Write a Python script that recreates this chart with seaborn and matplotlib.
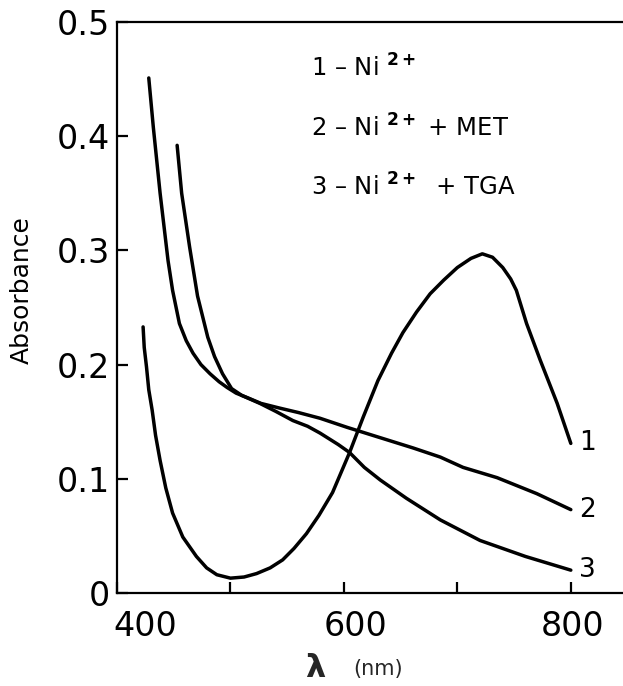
import matplotlib
matplotlib.use("Agg")
import matplotlib.pyplot as plt
import matplotlib.transforms as mtransforms
import seaborn as sns
import pandas as pd

# --- data ---
wl1 = [423, 424, 426, 428, 431, 434, 438, 443, 449, 458, 470, 479, 488, 500, 512,
       523, 535, 546, 556, 567, 578, 590, 605, 617, 630, 642, 652, 664, 676, 688,
       700, 712, 722, 731, 740, 747, 752, 761, 773, 788, 800]
abs1 = [0.233, 0.215, 0.198, 0.178, 0.160, 0.138, 0.116, 0.092, 0.070, 0.049, 0.032,
        0.022, 0.016, 0.013, 0.014, 0.017, 0.022, 0.029, 0.039, 0.052, 0.068, 0.088,
        0.123, 0.154, 0.186, 0.210, 0.228, 0.246, 0.262, 0.274, 0.285, 0.293, 0.297,
        0.294, 0.285, 0.275, 0.265, 0.236, 0.204, 0.166, 0.131]

wl2 = [428, 432, 438, 445, 449, 455, 461, 467, 474, 482, 490, 497, 505, 515, 527,
       543, 560, 579, 603, 632, 661, 685, 705, 735, 770, 800]
abs2 = [0.451, 0.408, 0.350, 0.291, 0.265, 0.236, 0.221, 0.210, 0.200, 0.192, 0.185,
        0.180, 0.175, 0.171, 0.166, 0.162, 0.158, 0.153, 0.145, 0.136, 0.127, 0.119,
        0.110, 0.101, 0.087, 0.073]

wl3 = [453, 457, 464, 471, 480, 486, 493, 501, 510, 526, 540, 555, 568, 579, 595,
       605, 618, 632, 655, 685, 720, 760, 800]
abs3 = [0.392, 0.350, 0.303, 0.260, 0.224, 0.207, 0.192, 0.179, 0.173, 0.166, 0.159,
        0.151, 0.146, 0.140, 0.130, 0.123, 0.110, 0.099, 0.083, 0.064, 0.046, 0.032,
        0.020]

curve_ids = ["1", "2", "3"]
legend_lines = [r"1 – Ni $^{\mathbf{2+}}$",
                r"2 – Ni $^{\mathbf{2+}}$ + MET",
                r"3 – Ni $^{\mathbf{2+}}$  + TGA"]
xticks = [400, 500, 600, 700, 800]
xticklabels = ["400", "", "600", "", "800"]
yticks = [0, 0.1, 0.2, 0.3, 0.4, 0.5]
yticklabels = ["0", "0.1", "0.2", "0.3", "0.4", "0.5"]

df = pd.concat([
    pd.DataFrame({"wl": wl1, "A": abs1, "curve": "1"}),
    pd.DataFrame({"wl": wl2, "A": abs2, "curve": "2"}),
    pd.DataFrame({"wl": wl3, "A": abs3, "curve": "3"}),
])

sns.set_theme(style="white")
plt.rcParams["font.family"] = ["DejaVu Sans"]

fig = plt.figure(figsize=(6.23, 6.86), dpi=100)
ax = fig.add_axes([117 / 623, 93 / 686, 1 - 117 / 623, (593 - 22) / 686])

sns.lineplot(data=df, x="wl", y="A", units="curve", estimator=None,
             color="black", linewidth=2.5, ax=ax, legend=False)

ax.set_xlim(400, 846)
ax.set_ylim(0, 0.5)
ax.set_xticks(xticks)
ax.set_xticklabels(xticklabels)
ax.set_yticks(yticks)
ax.set_yticklabels(yticklabels)
ax.tick_params(axis="both", direction="in", length=8, width=1.6, colors="black",
               labelsize=24, bottom=True, left=True, top=False, right=False)
ax.tick_params(axis="y", pad=5)
ax.tick_params(axis="x", pad=12)
ax.set_xlabel("")
ax.set_ylabel("Absorbance", fontsize=18, color="black")
ax.yaxis.set_label_coords(-0.165, 0.53)

# the scanned x tick labels sit a little right of their ticks
offsets = [28, 0, 12, 0, 2]
for tick, dx in zip(ax.xaxis.get_major_ticks(), offsets):
    tick.label1.set_transform(tick.label1.get_transform() +
                              mtransforms.ScaledTranslation(dx / 100, 0, fig.dpi_scale_trans))

for side in ["left", "bottom", "top"]:
    ax.spines[side].set_visible(True)
    ax.spines[side].set_color("black")
    ax.spines[side].set_linewidth(1.6)
ax.spines["right"].set_visible(False)

# curve end labels
ends = [(wl1[-1], abs1[-1]), (wl2[-1], abs2[-1]), (wl3[-1], abs3[-1])]
for cid, (x, y) in zip(curve_ids, ends):
    ax.text(x + 7, y, cid, fontsize=19, ha="left", va="center", color="black")

# legend-like text block
for i, line in enumerate(legend_lines):
    ax.text(571, 0.452 - i * 0.052, line, fontsize=17.5, ha="left",
            va="baseline", color="black")

# x-axis label: bold lambda + (nm)
fig.text(315 / 623, 1 - 677 / 686, "λ", fontsize=23, fontweight="bold",
         ha="center", va="baseline")
fig.text(378 / 623, 1 - 675 / 686, "(nm)", fontsize=15, ha="center", va="baseline")

fig.savefig("out.png", dpi=100)
